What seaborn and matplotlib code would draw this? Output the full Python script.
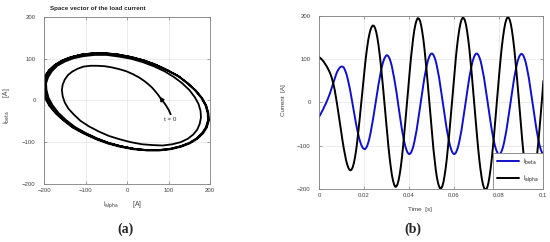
import numpy as np
import pandas as pd
import seaborn as sns
import matplotlib.pyplot as plt
from matplotlib.ticker import FixedLocator, FixedFormatter

# samples of the load current, every 0.5 ms (0 .. 0.1 s)
SAMPLE_STEP = 0.0005

i_alpha = [
    105, 103, 101, 98, 95, 91, 87, 83, 78, 73,
    67, 60, 51, 41, 29, 14, -2, -19, -36, -54,
    -72, -89, -105, -119, -132, -142, -150, -155, -157, -155,
    -150, -141, -128, -112, -92, -69, -44, -18, 9, 36,
    62, 86, 109, 129, 146, 159, 169, 175, 178, 177,
    172, 163, 150, 133, 113, 90, 64, 37, 9, -20,
    -49, -78, -105, -129, -150, -168, -181, -190, -195, -194,
    -189, -179, -165, -147, -125, -100, -72, -43, -13, 17,
    47, 76, 104, 128, 150, 168, 181, 190, 195, 194,
    189, 179, 164, 146, 124, 98, 71, 41, 10, -21,
    -51, -80, -108, -132, -154, -172, -185, -194, -199, -198,
    -193, -183, -168, -150, -128, -102, -75, -45, -14, 17,
    47, 76, 104, 129, 150, 168, 182, 191, 196, 195,
    190, 180, 165, 146, 124, 98, 70, 40, 10, -22,
    -53, -82, -110, -135, -156, -174, -188, -197, -202, -201,
    -196, -186, -171, -152, -130, -104, -76, -46, -16, 16,
    48, 77, 105, 130, 151, 169, 183, 192, 197, 196,
    191, 181, 166, 147, 125, 99, 71, 41, 11, -21,
    -53, -83, -111, -136, -157, -175, -189, -198, -203, -202,
    -197, -187, -172, -153, -131, -105, -77, -47, -17, 15,
    50,
]

i_beta = [
    -33, -29, -24, -19, -14, -8, -3, 3, 9, 16,
    23, 31, 39, 47, 55, 63, 70, 75, 79, 82,
    83, 83, 81, 76, 69, 61, 50, 38, 25, 10,
    -5, -20, -34, -49, -62, -74, -85, -93, -100, -105,
    -107, -108, -105, -100, -92, -82, -70, -56, -41, -25,
    -8, 8, 25, 41, 56, 70, 82, 92, 100, 105,
    109, 109, 106, 101, 93, 83, 70, 56, 41, 25,
    6, -12, -30, -47, -64, -78, -91, -102, -110, -116,
    -119, -119, -116, -110, -102, -91, -78, -64, -47, -30,
    -12, 6, 24, 41, 58, 72, 85, 96, 104, 110,
    113, 113, 110, 104, 96, 85, 72, 58, 41, 24,
    6, -12, -30, -47, -64, -78, -91, -102, -110, -116,
    -119, -119, -116, -110, -102, -91, -78, -64, -47, -30,
    -12, 6, 24, 41, 58, 72, 85, 96, 104, 110,
    113, 113, 110, 104, 96, 85, 72, 58, 41, 24,
    6, -12, -30, -47, -64, -78, -91, -102, -110, -116,
    -120, -120, -117, -111, -103, -92, -79, -65, -48, -31,
    -13, 5, 23, 40, 57, 71, 84, 95, 103, 109,
    112, 112, 109, 103, 95, 84, 71, 57, 40, 23,
    5, -13, -31, -48, -65, -79, -92, -103, -111, -117,
    -119,
]

current_ticks = [-200, -100, 0, 100, 200]
time_ticks = [0, 0.02, 0.04, 0.06, 0.08, 0.1]
time_tick_labels = ['0', '0.02', '0.04', '0.06', '0.08', '0.1']

lbl_beta = r'i$_{\mathrm{beta}}$'
lbl_alpha = r'i$_{\mathrm{alpha}}$'

time_s = np.arange(len(i_alpha)) * SAMPLE_STEP
vec = pd.DataFrame({'alpha': i_alpha, 'beta': i_beta, 'time': time_s})
long = pd.concat([
    pd.DataFrame({'time': time_s, 'current': i_beta, 'series': lbl_beta}),
    pd.DataFrame({'time': time_s, 'current': i_alpha, 'series': lbl_alpha}),
])

sns.set_style('white')
plt.rcParams['font.family'] = ['Liberation Sans', 'DejaVu Sans']
plt.rcParams['mathtext.fontset'] = 'dejavusans'

fig = plt.figure(figsize=(5.5, 2.42), dpi=100)
ax_a = fig.add_axes([0.080, 0.240, 0.302, 0.690])
ax_b = fig.add_axes([0.580, 0.219, 0.408, 0.715])

def matlab_axes(ax):
    ax.grid(True, color='#e4e4e4', lw=0.5)
    ax.set_axisbelow(True)
    for sp in ax.spines.values():
        sp.set_visible(True)
        sp.set_color('#808080')
        sp.set_linewidth(0.6)
    ax.tick_params(direction='in', length=2, width=0.5, colors='#808080',
                   labelcolor='#404040', labelsize=4.3, top=True, right=True,
                   bottom=True, left=True, pad=3)
    ax.set_xlabel('')
    ax.set_ylabel('')

# (a) space vector
sns.lineplot(data=vec, x='alpha', y='beta', sort=False, estimator=None,
             color='black', lw=1.3, ax=ax_a)
ax_a.set_xlim(-200, 200)
ax_a.set_ylim(-200, 200)
ax_a.xaxis.set_major_locator(FixedLocator(current_ticks))
ax_a.yaxis.set_major_locator(FixedLocator(current_ticks))
matlab_axes(ax_a)
ax_a.tick_params(axis='y', pad=6)
ax_a.annotate('', xy=(i_alpha[8], i_beta[8]), xytext=(i_alpha[6], i_beta[6]),
              arrowprops=dict(arrowstyle='-|>', color='black', lw=0.8,
                              mutation_scale=7, shrinkA=0, shrinkB=0))
ax_a.annotate('t = 0', xy=(i_alpha[0], i_beta[0]), xytext=(0, -4),
              textcoords='offset points', ha='center', va='center', fontsize=4.5)
ax_a.text(0.325, 1.048, 'Space vector of the load current', transform=ax_a.transAxes,
          ha='center', va='center', fontsize=4.5, fontweight='bold')

# (b) time signals
sns.lineplot(data=long, x='time', y='current', hue='series',
             hue_order=[lbl_beta, lbl_alpha],
             palette={lbl_beta: '#1010c8', lbl_alpha: 'black'},
             lw=1.4, legend=False, ax=ax_b)
ax_b.set_xlim(0, 0.1)
ax_b.set_ylim(-200, 200)
ax_b.xaxis.set_major_locator(FixedLocator(time_ticks))
ax_b.xaxis.set_major_formatter(FixedFormatter(time_tick_labels))
ax_b.yaxis.set_major_locator(FixedLocator(current_ticks))
matlab_axes(ax_b)
ax_b.tick_params(axis='y', pad=6)
leg = ax_b.legend(handles=ax_b.lines[:2], labels=[lbl_beta, lbl_alpha],
                  loc='lower right', borderaxespad=0, fontsize=4.8,
                  handlelength=3.4, handletextpad=0.6, labelspacing=1.0,
                  fancybox=False, framealpha=1, borderpad=0.6)
leg.get_frame().set_edgecolor('#808080')
leg.get_frame().set_linewidth(0.6)

# axis labels and panel tags
fig.text(122 / 550, 1 - 205 / 242, lbl_alpha + '        [A]', ha='center', va='center',
         fontsize=4.8, color='#404040')
fig.text(7 / 550, 1 - 106 / 242, lbl_beta + '        [A]', ha='center', va='center',
         rotation=90, fontsize=4.8, color='#404040')
fig.text(283 / 550, 1 - 100 / 242, 'Current  [A]', ha='center', va='center',
         rotation=90, fontsize=4.5, color='#404040')
fig.text(420 / 550, 1 - 209 / 242, 'Time  [s]', ha='center', va='center',
         fontsize=4.5, color='#404040')
fig.text(125 / 550, 1 - 229 / 242, '(a)', ha='center', va='center', fontsize=10,
         fontweight='bold', family='Liberation Serif')
fig.text(413 / 550, 1 - 229 / 242, '(b)', ha='center', va='center', fontsize=10,
         fontweight='bold', family='Liberation Serif')

fig.savefig('out.png', dpi=100)
